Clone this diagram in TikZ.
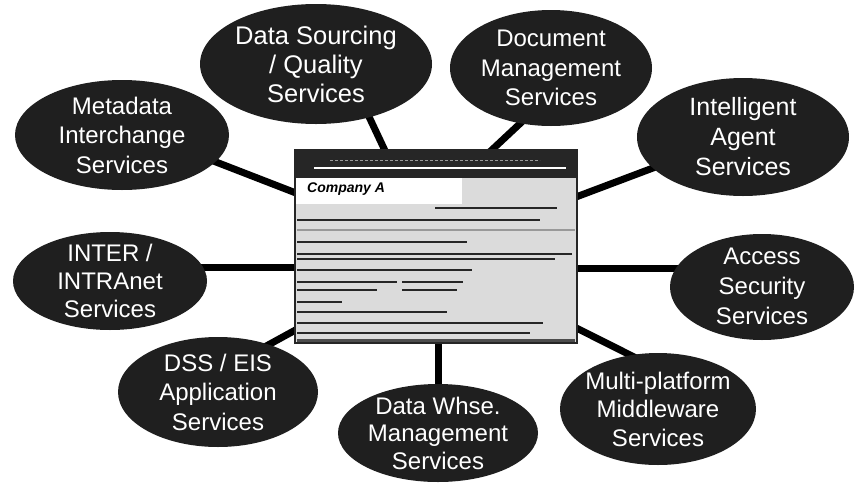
\documentclass[tikz,border=0pt]{standalone}
\usepackage{fontspec}
\setmainfont{Liberation Sans}
\usetikzlibrary{shapes.geometric,backgrounds,calc}
\begin{document}
\begin{tikzpicture}[x=1pt,y=-1pt,
  bubble/.style={ellipse,fill=black!88,draw=none,inner sep=0pt,outer sep=0pt},
  bubbletext/.style={align=center,text=white,inner sep=0pt,
    font=\fontsize{24}{29.5}\selectfont},
  link/.style={line width=7pt,draw=black,shorten <=-8pt,shorten >=-8pt},
  txtbar/.style={line width=2pt,draw=black!85},
  lightbar/.style={line width=1.6pt,draw=black!40},
]
\useasboundingbox (0,0) rectangle (857,485);

% central web page
\node[draw=black!85,line width=1.2pt,fill=black!14,minimum width=282pt,
      minimum height=193pt,inner sep=0pt] (doc) at (436,246.5) {};

% service bubbles
\node[bubble,minimum width=232pt,minimum height=120pt] (ds) at (316,64) {};
\node[bubbletext,font=\fontsize{25.5}{29}\selectfont] (ds-t) at (ds) {Data Sourcing\\/ Quality\\Services};

\node[bubble,minimum width=214pt,minimum height=110pt] (md) at (122,135) {};
\node[bubbletext] (md-t) at (md) {Metadata\\Interchange\\Services};

\node[bubble,minimum width=202pt,minimum height=116pt] (dm) at (551,68) {};
\node[bubbletext] (dm-t) at (dm) {Document\\Management\\Services};

\node[bubble,minimum width=212pt,minimum height=118pt] (ia) at (743,137) {};
\node[bubbletext,font=\fontsize{25}{30}\selectfont] (ia-t) at (ia) {Intelligent\\Agent\\Services};

\node[bubble,minimum width=194pt,minimum height=98pt] (inter) at (110,281) {};
\node[bubbletext,font=\fontsize{24}{28}\selectfont] (inter-t) at (inter) {INTER /\\INTRAnet\\Services};

\node[bubble,minimum width=184pt,minimum height=106pt] (as) at (762,287) {};
\node[bubbletext,font=\fontsize{24}{30}\selectfont] (as-t) at ([yshift=1pt]as.center) {Access\\Security\\Services};

\node[bubble,minimum width=200pt,minimum height=110pt] (dss) at (218,392) {};
\node[bubbletext] (dss-t) at (dss) {DSS / EIS\\Application\\Services};

\node[bubble,minimum width=200pt,minimum height=98pt] (dw) at (438,433) {};
\node[bubbletext,font=\fontsize{24}{27.5}\selectfont] (dw-t) at (dw) {Data Whse.\\Management\\Services};

\node[bubble,minimum width=196pt,minimum height=112pt] (mp) at (658,409) {};
\node[bubbletext,font=\fontsize{24}{28.5}\selectfont] (mp-t) at (mp) {Multi-platform\\Middleware\\Services};

% connectors, drawn behind the bubbles and the page
\begin{scope}[on background layer]
  \draw[link] (ds.-45) -- ($(doc.north west)+(90,0)$);
  \draw[link] (md.-16) -- ($(doc.north west)+(0,43)$);
  \draw[link] (dm.-119) -- ($(doc.north west)+(198,0)$);
  \draw[link] (ia.-161) -- ($(doc.north east)+(0,47)$);
  \draw[link] (inter.8) -- (inter.8 -| doc.west);
  \draw[link] (as.168) -- (as.168 -| doc.east);
  \draw[link] (dss.43) -- ($(doc.south west)+(0,-13)$);
  \draw[link] (dw.north) -- (dw.north |- doc.south);
  \draw[link] (mp.117) -- ($(doc.south east)+(0,-15)$);
\end{scope}

% page contents: title bar, heading and lines of text
\fill[black!85] (295,150) rectangle (577,178);
\draw[white,line width=2pt] (314,168) -- (566,168);
\draw[black!40,line width=1pt,dash pattern=on 3pt off 2pt] (330,160) -- (540,160);
\fill[white] (296,178) rectangle (462,204);
\node[anchor=west,inner sep=0pt,font=\bfseries\itshape\fontsize{14}{14}\selectfont]
  (coA) at (307,189) {Company A};

\draw[txtbar] (435,208) -- (557,208);
\draw[txtbar] (297,220) -- (540,220);
\draw[lightbar] (297,230) -- (575,230);
\draw[txtbar,line width=2.6pt] (297,242) -- (467,242);
\draw[txtbar,line width=1.6pt] (297,254) -- (572,254);
\draw[txtbar,line width=1.6pt] (297,259) -- (555,259);
\draw[txtbar] (297,270) -- (472,270);
\draw[txtbar] (297,282) -- (397,282);
\draw[txtbar] (402,282) -- (463,282);
\draw[txtbar] (297,290) -- (377,290);
\draw[txtbar] (402,290) -- (457,290);
\draw[txtbar] (297,302) -- (342,302);
\draw[txtbar] (297,312) -- (447,312);
\draw[txtbar] (297,323) -- (543,323);
\draw[txtbar] (297,333) -- (530,333);
\draw[txtbar,line width=3pt,draw=black!70] (297,340) -- (575,340);
\end{tikzpicture}
\end{document}
